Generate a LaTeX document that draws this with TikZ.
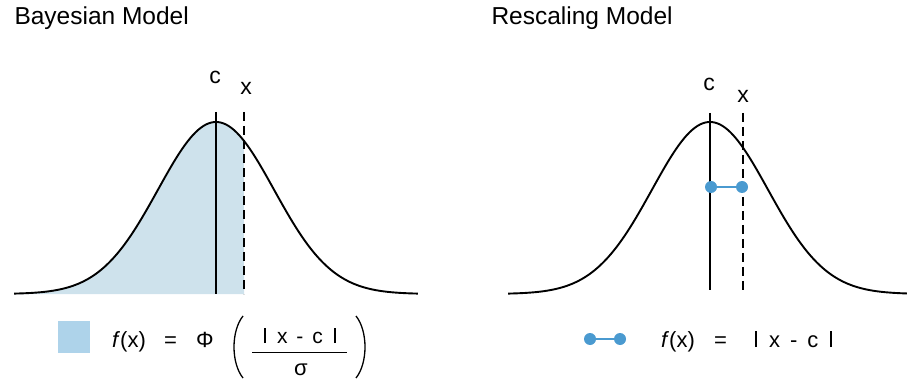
\documentclass[tikz,border=0pt]{standalone}
\usepackage{fontspec}
\setmainfont{Liberation Sans}
\definecolor{shadeblue}{RGB}{206,226,236}
\definecolor{legbox}{RGB}{174,211,234}
\definecolor{dotblue}{RGB}{74,154,208}
\newcommand{\vbar}{\rule{1.9pt}{0.72em}}
\begin{document}
\begin{tikzpicture}[x=1pt,y=-1pt,
  curve/.style={line width=1.9pt, black},
  cline/.style={line width=1.9pt, black},
  xline/.style={line width=1.9pt, black, dash pattern=on 9pt off 5pt},
  title/.style={anchor=base west, font=\fontsize{24.5}{28}\selectfont},
  lab/.style={anchor=base, font=\fontsize{23}{26}\selectfont},
  eq/.style={anchor=base west, font=\fontsize{22}{26}\selectfont, inner sep=0pt},
  num/.style={anchor=base, font=\fontsize{21}{24}\selectfont, inner sep=0pt},
  den/.style={anchor=base, font=\fontsize{22}{24}\selectfont, inner sep=0pt},
  dot/.style={circle, fill=dotblue, minimum size=12pt, inner sep=0pt},
  paren/.style={line width=1.3pt, black}
]
\useasboundingbox (0,0) rectangle (907,379);

% ---------- left panel ----------
\node[title] (t1) at (11,25) {Bayesian Model};
\fill[shadeblue] plot[domain=-3.48:0.483, samples=80] ({216+58*\x},{294-172*exp(-\x*\x/2)}) -- (244,294) -- (14,294) -- cycle;
\draw[curve] plot[domain=-3.48:3.48, samples=150] ({216+58*\x},{294-172*exp(-\x*\x/2)});
\coordinate (c1t) at (216,112);
\coordinate (c1b) at (216,294);
\coordinate (x1t) at (244,112);
\coordinate (x1b) at (244,294);
\draw[cline] (c1t) -- (c1b);
\draw[xline] (x1t) -- (x1b);
\node[lab] (c1) at (215,84) {c};
\node[lab] (x1) at (246,95) {x};

% legend left
\node[fill=legbox, minimum size=32pt, inner sep=0pt] (box) at (74,337) {};
\node[eq] (f1) at (112,347) {\textit{f}(x)};
\node[eq] (e1) at (164,347) {=};
\node[eq] (phi) at (196,347) {Φ};
\node[num] (n1) at (300,343) {\vbar\hspace{11pt}x\hspace{9pt}-\hspace{9pt}c\hspace{11pt}\vbar};
\node[den] (d1) at (301,375) {σ};
\coordinate (fl) at (252,352);
\coordinate (fr) at (347,352);
\draw[line width=1pt] (fl) -- (fr);
\coordinate (lp1) at (243,316);
\coordinate (lp2) at (243,378);
\draw[paren] (lp1) .. controls (231,331) and (231,363) .. (lp2);
\coordinate (rp1) at (356,316);
\coordinate (rp2) at (356,378);
\draw[paren] (rp1) .. controls (368,331) and (368,363) .. (rp2);

% ---------- right panel ----------
\node[title] (t2) at (488,25) {Rescaling Model};
\draw[curve] plot[domain=-3.48:3.48, samples=150] ({710+58*\x},{294-172*exp(-\x*\x/2)});
\coordinate (c2t) at (710,113);
\coordinate (c2b) at (710,290);
\coordinate (x2t) at (743,113);
\coordinate (x2b) at (743,294);
\draw[cline] (c2t) -- (c2b);
\draw[xline] (x2t) -- (x2b);
\node[lab] (c2) at (709,91) {c};
\node[lab] (x2) at (743,103) {x};
\node[dot] (dc) at (711,187) {};
\node[dot] (dx) at (742,187) {};
\draw[dotblue, line width=1.5pt] (dc) -- (dx);

% legend right
\node[dot] (l1) at (590,339) {};
\node[dot] (l2) at (620,339) {};
\draw[dotblue, line width=1.5pt] (l1) -- (l2);
\node[eq] (f2) at (661,347) {\textit{f}(x)};
\node[eq] (e2) at (714,347) {=};
\node[eq] (ab) at (755,347) {\vbar\hspace{12pt}x\hspace{10pt}-\hspace{10pt}c\hspace{12pt}\vbar};
\end{tikzpicture}
\end{document}
